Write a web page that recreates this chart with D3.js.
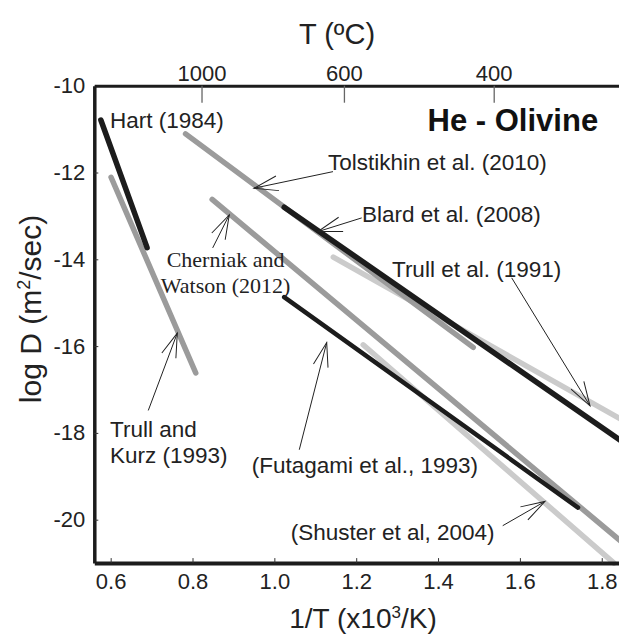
<!DOCTYPE html>
<html><head><meta charset="utf-8">
<script src="https://cdn.jsdelivr.net/npm/d3@7"></script>
<style>
body{margin:0;background:#fff}
svg{display:block;font-family:"Liberation Sans",Arial,Helvetica,sans-serif}
</style>
</head><body><svg id="chart" width="619" height="635"></svg>
<script>
// ---- data ----
const studies   = ["Trull et al. (1991)","Shuster et al. (2004)","Tolstikhin et al. (2010)","Cherniak and Watson (2012)","Trull and Kurz (1993)","Hart (1984)","Blard et al. (2008)","Futagami et al. (1993)"];
const invTStart = [1.144, 1.217, 0.783, 0.848, 0.601, 0.576, 1.024, 1.024];
const logDStart = [-13.95, -15.97, -11.11, -12.62, -12.11, -10.79, -12.80, -14.87];
const invTEnd   = [1.85, 1.83, 1.486, 1.85, 0.808, 0.689, 1.85, 1.742];
const logDEnd   = [-17.70, -21.0, -16.03, -20.52, -16.62, -13.73, -18.20, -19.72];
const xTicks = [0.6, 0.8, 1.0, 1.2, 1.4, 1.6, 1.8];
const yTicks = [-10, -12, -14, -16, -18, -20];
const topTickPos = [0.822, 1.170, 1.536];
const topTickLabels = ["1000", "600", "400"];

// ---- styles ----
const shade = {
  "Trull et al. (1991)": "#cbcbcb",
  "Shuster et al. (2004)": "#cbcbcb",
  "Tolstikhin et al. (2010)": "#9b9b9b",
  "Cherniak and Watson (2012)": "#9b9b9b",
  "Trull and Kurz (1993)": "#9b9b9b",
  "Hart (1984)": "#1c1c1c",
  "Blard et al. (2008)": "#1c1c1c",
  "Futagami et al. (1993)": "#1c1c1c"
};
const widthOf = {"Futagami et al. (1993)": 4.5};

// annotations: text anchor and arrow (tail -> tip) in data units
const annotations = [
  {lines:["Hart (1984)"], at:[0.5985,-10.976]},
  {lines:["Tolstikhin et al. (2010)"], at:[1.131,-11.941], tail:[1.1433,-11.98], tip:[0.9502,-12.362]},
  {lines:["Blard et al. (2008)"], at:[1.2141,-13.14], tail:[1.2134,-13.046], tip:[1.1066,-13.362]},
  {lines:["Trull et al. (1991)"], at:[1.2874,-14.405], tail:[1.580,-14.428], tip:[1.7713,-17.375]},
  {lines:["Cherniak and","Watson (2012)"], at:[0.8808,-14.168], anchor:"middle", serif:true, tail:[0.8493,-13.737], tip:[0.8898,-12.977]},
  {lines:["Trull and","Kurz (1993)"], at:[0.5985,-18.09], tail:[0.6919,-17.483], tip:[0.7628,-15.701]},
  {lines:["(Futagami et al., 1993)"], at:[0.9446,-18.918], tail:[1.0609,-18.388], tip:[1.1279,-15.918]},
  {lines:["(Shuster et al, 2004)"], at:[1.0399,-20.46], tail:[1.558,-20.138], tip:[1.6613,-19.579]}
];

const svg = d3.select("#chart");
const x = d3.scaleLinear().domain([0.56, 1.85]).range([94.3, 622.2]);
const y = d3.scaleLinear().domain([-21, -10]).range([563.1, 85.7]);

svg.append("defs").append("marker")
  .attr("id","arr").attr("markerUnits","userSpaceOnUse")
  .attr("viewBox","-26 -10 28 20").attr("refX",0).attr("refY",0)
  .attr("markerWidth",28).attr("markerHeight",20).attr("orient","auto")
  .append("path").attr("d","M-24,-7.5L0,0L-24,7.5")
  .attr("fill","none").attr("stroke","#222").attr("stroke-width",1);

// series lines
const plot = svg.append("g");
studies.forEach((s, i) => {
  plot.append("line")
    .attr("x1", x(invTStart[i])).attr("y1", y(logDStart[i]))
    .attr("x2", x(invTEnd[i])).attr("y2", y(logDEnd[i]))
    .attr("stroke", shade[s]).attr("stroke-width", widthOf[s] || 5.5)
    .attr("stroke-linecap","round");
});

// axes
const axFont = 22;
const gB = svg.append("g").attr("transform",`translate(0,${y(-21)})`)
  .call(d3.axisBottom(x).tickValues(xTicks).tickFormat(d3.format(".1f"))
    .tickSizeInner(-5).tickSizeOuter(0).tickPadding(10));
gB.select(".domain").attr("stroke","#1c1c1c").attr("stroke-width",4);
gB.selectAll(".tick line").attr("stroke","#333");
gB.selectAll("text").attr("font-size",axFont).attr("fill","#222").attr("font-family","Liberation Sans, Arial, sans-serif");

const gL = svg.append("g").attr("transform",`translate(${x(0.56)},0)`)
  .call(d3.axisLeft(y).tickValues(yTicks).tickFormat(d => String(d))
    .tickSizeInner(-4).tickSizeOuter(0).tickPadding(9));
gL.select(".domain").attr("stroke","#1c1c1c").attr("stroke-width",3.5);
gL.selectAll(".tick line").attr("stroke","#333");
gL.selectAll("text").attr("font-size",axFont).attr("fill","#222").attr("font-family","Liberation Sans, Arial, sans-serif");

const gT = svg.append("g").attr("transform",`translate(0,${y(-10)})`)
  .call(d3.axisTop(x).tickValues(topTickPos).tickFormat((d,i)=>topTickLabels[i])
    .tickSizeInner(-17).tickSizeOuter(0).tickPadding(5));
gT.select(".domain").attr("stroke","#1c1c1c").attr("stroke-width",3);
gT.selectAll(".tick line").attr("stroke","#666").attr("stroke-width",1.3);
gT.selectAll("text").attr("font-size",axFont).attr("fill","#222").attr("font-family","Liberation Sans, Arial, sans-serif");

// axis titles
svg.append("text").attr("x",337).attr("y",44).attr("text-anchor","middle")
  .attr("font-size",29).attr("fill","#222").text("T (ºC)");
const yt = svg.append("text").attr("transform","translate(41,309) rotate(-90)")
  .attr("text-anchor","middle").attr("font-size",30).attr("fill","#222");
yt.append("tspan").text("log D (m");
yt.append("tspan").attr("font-size",18).attr("dy",-11).text("2");
yt.append("tspan").attr("dy",11).text("/sec)");
const xt = svg.append("text").attr("x",363).attr("y",628).attr("text-anchor","middle")
  .attr("font-size",28).attr("fill","#222");
xt.append("tspan").text("1/T (x10");
xt.append("tspan").attr("font-size",17).attr("dy",-10).text("3");
xt.append("tspan").attr("dy",10).text("/K)");

// chart title
svg.append("text").attr("x",x(1.7912)).attr("y",y(-11.04)).attr("text-anchor","end")
  .attr("font-size",31).attr("font-weight","bold").attr("fill","#111").text("He - Olivine");

// annotations
annotations.forEach(a => {
  if (a.tail) {
    svg.append("line")
      .attr("x1",x(a.tail[0])).attr("y1",y(a.tail[1]))
      .attr("x2",x(a.tip[0])).attr("y2",y(a.tip[1]))
      .attr("stroke","#222").attr("stroke-width",1).attr("marker-end","url(#arr)");
  }
  const t = svg.append("text").attr("x",x(a.at[0])).attr("y",y(a.at[1]))
    .attr("text-anchor",a.anchor||"start").attr("fill","#222")
    .attr("font-size",a.serif?22:22.5)
    .attr("font-family",a.serif?"Liberation Serif, Times New Roman, serif":"Liberation Sans, Arial, sans-serif");
  a.lines.forEach((ln,j)=>{
    t.append("tspan").attr("x",x(a.at[0])).attr("dy",j===0?0:26.5).text(ln);
  });
});
</script>
</body></html>
